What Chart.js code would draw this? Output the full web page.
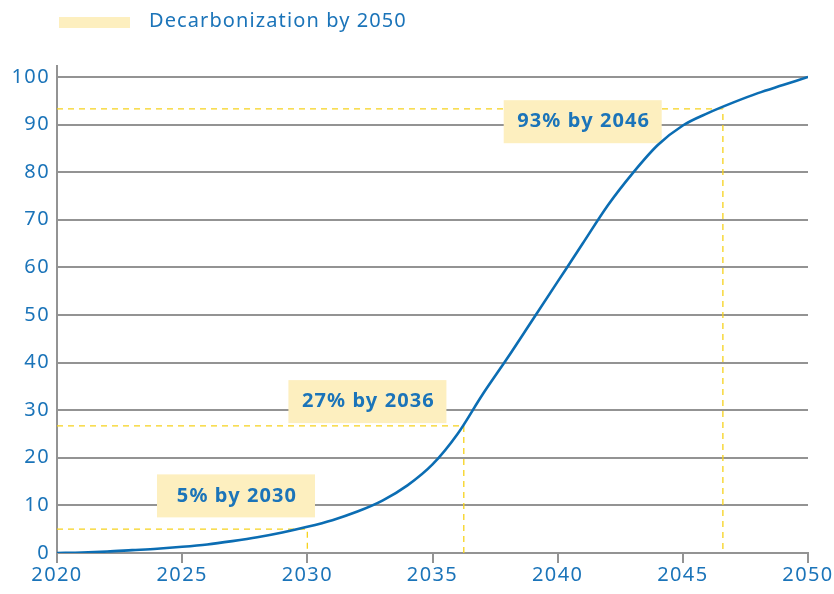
<!DOCTYPE html>
<html>
<head>
<meta charset="utf-8">
<script src="https://cdn.jsdelivr.net/npm/chart.js@4.4.0/dist/chart.umd.min.js"></script>
<style>
html,body{margin:0;padding:0;background:#fff;}
#wrap{width:834px;height:594px;}
</style>
</head>
<body>
<div id="wrap"><canvas id="c" width="834" height="594"></canvas></div>
<script>
// ---- data ----
const years = [2020,2021,2022,2023,2024,2025,2026,2027,2028,2029,2030,2031,2032,2033,2034,2035,2036,2037,2038,2039,2040,2041,2042,2043,2044,2045,2046,2047,2048,2049,2050];
const decarbonization = [0,0.1,0.3,0.6,0.9,1.3,1.8,2.5,3.3,4.3,5.5,6.9,8.7,11,14.2,18.6,25,33.3,41,49,57,65,73,79.8,85.7,89.8,92.4,94.6,96.6,98.3,100];
const markerYears = [2030, 2036.25, 2046.6];
const markerValues = [5, 26.7, 93.3];
const markerLabels = ['5% by 2030', '27% by 2036', '93% by 2046'];
const labelYears = [2027.15, 2032.4, 2041.0];
const labelValues = [12.0, 31.8, 90.6];
const legendLabel = 'Decarbonization by 2050';
const xTicks = [2020,2025,2030,2035,2040,2045,2050];
const yTicks = [0,10,20,30,40,50,60,70,80,90,100];

const BLUE = '#1b74b9';
const LINE = '#0b6db3';
const YEL = '#f6d21c';
const BOX = '#fdefbf';
const GRID = '#939393';
const FONT = '"Noto Sans", Lato, sans-serif';

const canvas = document.getElementById('c');

const datasets = [{
  label: legendLabel,
  data: years.map((y,i)=>({x:y, y:decarbonization[i]})),
  borderColor: LINE, borderWidth: 2.6, pointRadius: 0,
  cubicInterpolationMode: 'monotone', fill: false, order: 0
}];
markerYears.forEach((yr,i)=>{
  datasets.push({
    label: 'm'+i,
    data: [{x:2020,y:markerValues[i]},{x:yr,y:markerValues[i]},{x:yr,y:0}],
    borderColor: YEL, borderWidth: 1.3, borderDash:[6,5], pointRadius:0,
    tension:0, fill:false, order: 1
  });
});

const spacingPlugin = {
  id: 'spacing',
  beforeLayout(chart) { chart.ctx.letterSpacing = '1.4px'; },
  beforeDraw(chart) { chart.ctx.letterSpacing = '1.4px'; }
};

const boxPlugin = {
  id: 'boxes',
  beforeDatasetDraw(chart, args) {
    if (args.index !== 0) return;
    const ctx = chart.ctx, xs = chart.scales.x, ys = chart.scales.y;
    ctx.save();
    ctx.letterSpacing = '1.1px';
    ctx.font = 'bold 20px ' + FONT;
    ctx.textAlign = 'center'; ctx.textBaseline = 'middle';
    markerLabels.forEach((t,i)=>{
      const cx = xs.getPixelForValue(labelYears[i]);
      const cy = ys.getPixelForValue(labelValues[i]);
      const w = 158, h = 43;
      ctx.fillStyle = BOX;
      ctx.fillRect(cx - w/2, cy - h/2, w, h);
      ctx.fillStyle = BLUE;
      ctx.fillText(t, cx + 1, cy);
    });
    ctx.restore();
  },
  afterDraw(chart) {
    const ctx = chart.ctx;
    ctx.save();
    ctx.fillStyle = BOX;
    ctx.fillRect(59, 17, 71, 11);
    ctx.fillStyle = BLUE;
    ctx.letterSpacing = '1.1px';
    ctx.font = '20px ' + FONT;
    ctx.textAlign = 'left'; ctx.textBaseline = 'middle';
    ctx.fillText(legendLabel, 149, 21);
    ctx.restore();
  }
};

new Chart(canvas, {
  type: 'line',
  data: { datasets },
  plugins: [spacingPlugin, boxPlugin],
  options: {
    responsive: false,
    animation: false,
    layout: { padding: { top: 66, right: 26, left: 0, bottom: 0 } },
    plugins: { legend: { display: false }, tooltip: { enabled: false } },
    scales: {
      x: {
        type: 'linear', min: 2020, max: 2050,
        afterBuildTicks(s){ s.ticks = xTicks.map(v=>({value:v})); },
        afterFit(s){ s.height = 41; },
        grid: { drawOnChartArea: false, drawTicks: true, tickLength: 10, color: GRID, lineWidth: 2 },
        border: { display: true, color: GRID, width: 2 },
        ticks: { color: BLUE, font: { family: FONT, size: 20 }, padding: 0, maxRotation: 0, callback: v => String(v) }
      },
      y: {
        type: 'linear', min: 0, max: 102.3,
        afterBuildTicks(s){ s.ticks = yTicks.map(v=>({value:v})); },
        afterFit(s){ s.width = 57; },
        grid: { drawTicks: false, color: GRID, lineWidth: 2 },
        border: { display: true, color: GRID, width: 2 },
        ticks: { color: BLUE, font: { family: FONT, size: 20 }, padding: 7, callback: v => String(v) }
      }
    }
  }
});
</script>
</body>
</html>
